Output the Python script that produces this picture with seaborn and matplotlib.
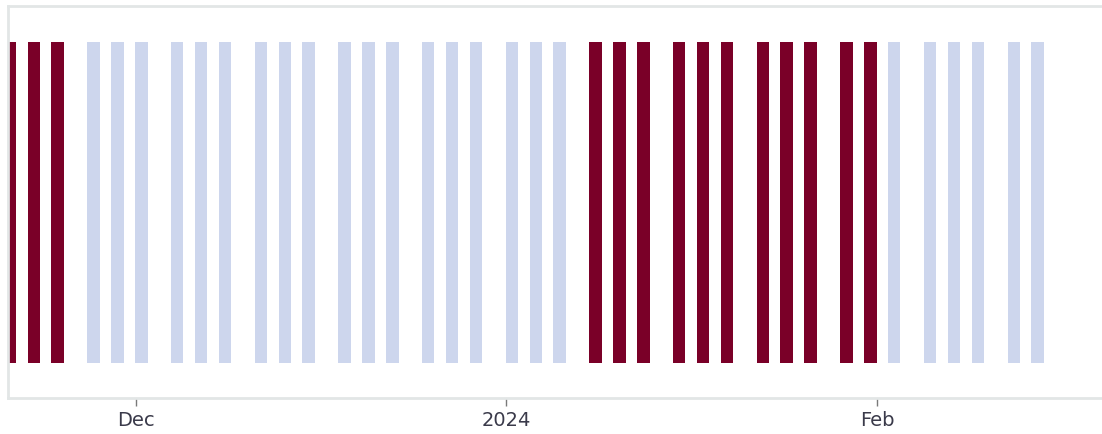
import matplotlib
matplotlib.use("Agg")
import matplotlib.pyplot as plt
import matplotlib.dates as mdates
import seaborn as sns
import pandas as pd
import numpy as np

# ---- data ----
dates = [
    "2023-11-20", "2023-11-22", "2023-11-24",
    "2023-11-27", "2023-11-29", "2023-12-01",
    "2023-12-04", "2023-12-06", "2023-12-08",
    "2023-12-11", "2023-12-13", "2023-12-15",
    "2023-12-18", "2023-12-20", "2023-12-22",
    "2023-12-25", "2023-12-27", "2023-12-29",
    "2024-01-01", "2024-01-03", "2024-01-05",
    "2024-01-08", "2024-01-10", "2024-01-12",
    "2024-01-15", "2024-01-17", "2024-01-19",
    "2024-01-22", "2024-01-24", "2024-01-26",
    "2024-01-29", "2024-01-31", "2024-02-02",
    "2024-02-05", "2024-02-07", "2024-02-09",
    "2024-02-12", "2024-02-14",
]
status = [
    "on", "on", "on",
    "off", "off", "off",
    "off", "off", "off",
    "off", "off", "off",
    "off", "off", "off",
    "off", "off", "off",
    "off", "off", "off",
    "on", "on", "on",
    "on", "on", "on",
    "on", "on", "on",
    "on", "on", "off",
    "off", "off", "off",
    "off", "off",
]
values = [1] * len(dates)

tick_dates = ["2023-12-01", "2024-01-01", "2024-02-01"]
tick_labels = ["Dec", "2024", "Feb"]

x_range = ("2023-11-20 07:00", "2024-02-19 20:00")

colors = {"on": "#7a0028", "off": "#cdd6ed"}

# ---- build frame ----
# each bar covers one day: centre it in the middle of its day
day_num = mdates.date2num(pd.to_datetime(dates)) + 0.45
df = pd.DataFrame({"x": day_num, "value": values, "status": status})

sns.set_theme(style="white")
plt.rcParams["font.family"] = ["DejaVu Sans"]

W, H = 1102, 434
fig = plt.figure(figsize=(W / 100, H / 100), dpi=100)
ax = fig.add_axes([8 / W, 36 / H, (W - 8) / W, 392 / H])

sns.barplot(
    data=df, x="x", y="value", hue="status", palette=colors,
    native_scale=True, dodge=False, width=0.52, errorbar=None,
    saturation=1, linewidth=0, legend=False, ax=ax,
)

ax.set_xlim(mdates.date2num(pd.to_datetime(x_range[0])),
            mdates.date2num(pd.to_datetime(x_range[1])))
ax.set_ylim(-0.109, 1.112)

ax.set_xticks(mdates.date2num(pd.to_datetime(tick_dates)))
ax.set_xticklabels(tick_labels)
ax.set_yticks([])
ax.set_xlabel("")
ax.set_ylabel("")

for side in ["left", "top", "bottom"]:
    ax.spines[side].set_visible(True)
    ax.spines[side].set_color("#e2e6e6")
    ax.spines[side].set_linewidth(2.0)
ax.spines["right"].set_visible(False)

ax.tick_params(axis="x", which="major", direction="out", length=5.5,
               width=1.0, color="#7a7a7a", pad=3.5, labelsize=14,
               labelcolor="#3a3a4a", bottom=True)

fig.savefig("out.png", dpi=100)
